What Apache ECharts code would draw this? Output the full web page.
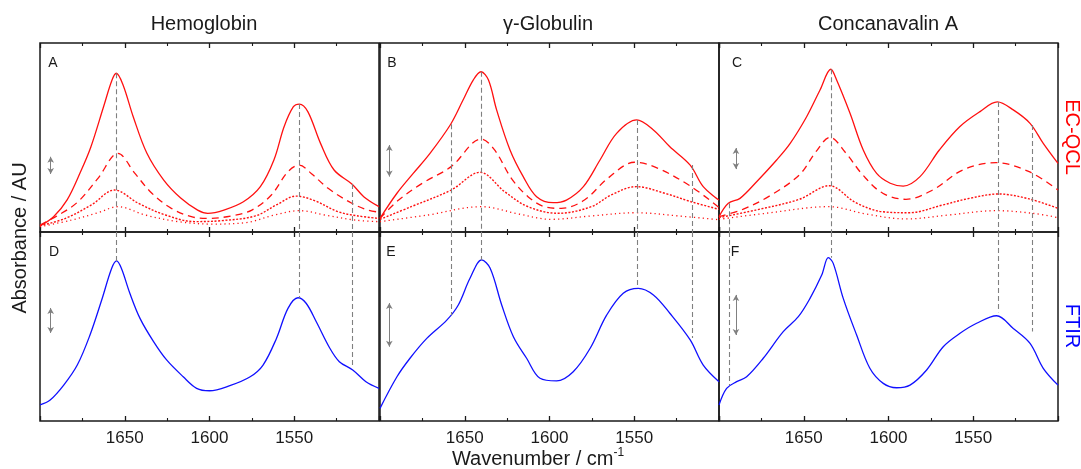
<!DOCTYPE html>
<html>
<head>
<meta charset="utf-8">
<script src="https://cdn.jsdelivr.net/npm/echarts@6/dist/echarts.min.js"></script>
<style>
html,body{margin:0;padding:0;background:#fff;}
#chart{width:1081px;height:469px;}
</style>
</head>
<body>
<div id="chart"></div>
<script>
// ---------- data (wavenumber cm^-1, absorbance in arbitrary units, 0..100 per panel) ----------
const columnTitles = ['Hemoglobin', 'γ-Globulin', 'Concanavalin A'];
const panelLetters = ['A', 'B', 'C', 'D', 'E', 'F'];
const tickLabels = [1650, 1600, 1550];

// Hemoglobin EC-QCL (four concentrations) and FTIR
const hbQcl1 = [[1700,3.2],[1692,8.1],[1684,17],[1676,32],[1670,45],[1662.5,66.3],[1657.5,80.4],[1655,84],[1651,77.8],[1645,61],[1637,41.8],[1627,27.5],[1617,18],[1607,11.6],[1601,9.9],[1591.5,11.6],[1580,16],[1570,24],[1562,38.1],[1556,55.7],[1550.5,66.3],[1547,67.7],[1542,63.7],[1534.5,46.9],[1526.5,32.8],[1516,25.4],[1509,18.7],[1500,13.4]];
const hbQcl2 = [[1700,3.7],[1689,9],[1677.6,16],[1665.8,28.4],[1654,41.6],[1644,31],[1634,20.5],[1622.5,12.5],[1610.7,8.1],[1601,7.2],[1587,8.5],[1575,11.6],[1563.5,19.6],[1553.7,31.9],[1547,35.4],[1540,31],[1530,23.1],[1516,15.2],[1506.5,11.6],[1500,10.5]];
const hbQcl3 = [[1700,3.3],[1685,7.2],[1669.7,14.3],[1656,22.2],[1642,15.2],[1626,9],[1608.7,5.5],[1593,6],[1573,8.5],[1559.6,14.8],[1549,19],[1538,16.6],[1524,10.7],[1512.4,8.5],[1500,7.2]];
const hbQcl4 = [[1700,2.8],[1681.5,6.3],[1665.8,10.2],[1654,13.4],[1638,9],[1618.6,5.5],[1599,4.2],[1579,4.9],[1561.5,9],[1547,11.3],[1532,9],[1514,6.3],[1500,5.5]];
const hbFtir = [[1700,8.5],[1694,11.1],[1686,19],[1678,29.6],[1670.5,45.5],[1663.6,64],[1657.7,80.8],[1654.8,84.7],[1652,80.8],[1647,67.6],[1641,54.3],[1633,42],[1625.3,32.3],[1615.5,23.4],[1607.6,17.3],[1600,16],[1588,18.7],[1576,23.4],[1568.4,29.6],[1560.5,43.7],[1553.7,59.6],[1547.8,65.2],[1543,62.3],[1537,52.5],[1529,38.5],[1523.4,31.4],[1515.5,27],[1507.7,20.8],[1500,17.3]];

// γ-Globulin
const glQcl1 = [[1700,7.2],[1690,20.5],[1680.4,31],[1670.5,41.6],[1658.3,57],[1651,69.8],[1645,80.4],[1640.4,84.8],[1636,80.4],[1631.2,64.6],[1623.3,43.4],[1615.5,29.3],[1607.6,18.7],[1597.8,15.5],[1590,16.9],[1580,24],[1570.2,38.1],[1560.4,52.2],[1548.6,59.3],[1538.7,54],[1529,45.1],[1517,35.4],[1509.3,24],[1500,16.9]];
const glQcl2 = [[1700,7.2],[1689,16.9],[1675,25.8],[1658,34.6],[1640.2,49.2],[1632.4,43.4],[1622.5,28.4],[1612.7,18.7],[1603,13.4],[1593,12.5],[1579.4,16.9],[1565.6,28.4],[1549.8,36.9],[1536,33.7],[1516.4,24],[1500,13]];
const glQcl3 = [[1700,6.7],[1681.6,13.4],[1658,22.2],[1641,31.6],[1626.4,21.3],[1612.7,13.4],[1595,9.9],[1575.3,13.4],[1563.6,19.6],[1548.8,24],[1532,20.5],[1516.4,16],[1500,12]];
const glQcl4 = [[1700,5.5],[1671.7,9],[1640.2,13.4],[1618,9.5],[1599.3,6.7],[1575.3,8.5],[1548.8,10.2],[1524,8.5],[1500,6.5]];
const glFtir = [[1700,6.7],[1690,23.4],[1682.3,33.2],[1672.4,43.7],[1660.6,53.4],[1653.8,61.4],[1646.9,75.5],[1640,85.2],[1635,80.8],[1628.2,61.4],[1621.3,44.6],[1613.5,33.2],[1605.6,22.6],[1595.8,21.2],[1586,26.1],[1576,38.5],[1566.3,56],[1556.5,67.6],[1547.6,70.2],[1538.7,66.7],[1529,57],[1517,42.9],[1509.3,29.6],[1500,20.8]];

// Concanavalin A
const caQcl1 = [[1700,8.1],[1694.5,15.2],[1687.6,17.8],[1677.8,26.6],[1666,38.1],[1658,46.9],[1648.3,61],[1640.4,75.1],[1634,86.1],[1630.6,80.4],[1622.7,62.8],[1614.9,43.4],[1607,31],[1599,25.8],[1591.3,24.3],[1581.4,29.3],[1570,43.4],[1558,55.7],[1546,63.7],[1535.8,68.8],[1526.4,64.6],[1516.5,57.5],[1508.7,46.9],[1500,36.3]];
const caQcl2 = [[1700,8.1],[1686,12],[1670.3,19],[1652.6,30.2],[1642.8,42.5],[1634.6,50.1],[1625,41.6],[1615.2,30.2],[1603.4,20.5],[1589.7,17.3],[1574,22.2],[1556.2,32.8],[1536.6,36.7],[1517,31.9],[1500,22.2]];
const caQcl3 = [[1700,7.6],[1678.3,11.6],[1652.6,17.3],[1635,24.5],[1619.3,15.5],[1603.4,10.7],[1587.7,10.2],[1568,14.3],[1552.3,17.8],[1535,20.1],[1517,17.5],[1500,12.5]];
const caQcl4 = [[1700,6.7],[1672.3,9.9],[1635,13.4],[1613.2,9.5],[1589.7,6.9],[1564.3,9],[1536.6,11.3],[1515,9.9],[1500,7.6]];
const caFtir = [[1700,8.5],[1695.5,17.3],[1689.6,20.8],[1683.7,23.4],[1673.9,33.2],[1662.1,47.3],[1653.2,55.2],[1646.3,64.9],[1639.4,77.2],[1635.5,86.4],[1632.6,83.4],[1626.7,64.9],[1618.8,45.5],[1611,27.9],[1603.1,19.9],[1595.2,17.6],[1587.3,19],[1577.5,27],[1567.7,39.3],[1557.8,46.4],[1548,51.7],[1536.2,55.7],[1526.4,49],[1516.5,41.1],[1508.7,27.9],[1500,19]];

// band positions (grey dashed guides): position, top-panel start value, bottom-panel end value
const hbBands = [1655, 1547, 1516];
const hbBandQcl = [84, 67.7, 25.4];
const hbBandFtir = [84.7, 65.2, 28.2];
const glBands = [1658, 1640, 1548.5, 1516];
const glBandQcl = [57, 84.8, 59.3, 35.4];
const glBandFtir = [56, 85.2, 70.5, 43.9];
const caBands = [1694, 1634, 1535.5, 1515];
const caBandQcl = [15.2, 86.1, 68.8, 56.6];
const caBandFtir = [19, 86.4, 57.5, 47.3];

// scale bars: [wavenumber, low, high] for top (QCL) and bottom (FTIR) panels
const scaleQcl = [[1693.7, 30.7, 39.8], [1694.5, 29.3, 46], [1690, 33.3, 44.4]];
const scaleFtir = [[1693.7, 46.6, 59.8], [1694.5, 39.3, 62.4], [1690, 45.5, 66.7]];

// ---------- build ----------
const FONT = '"Liberation Sans", Arial, Helvetica, sans-serif';
const RED = '#ff1010', BLUE = '#1010ff', GREY = '#808080', INK = '#1a1a1a';
const lefts = [40, 380, 719], W = 339;
const tops = [43, 232], H = 189;

const qclSets = [[hbQcl1, hbQcl2, hbQcl3, hbQcl4], [glQcl1, glQcl2, glQcl3, glQcl4], [caQcl1, caQcl2, caQcl3, caQcl4]];
const ftirSets = [hbFtir, glFtir, caFtir];
const bandSets = [[hbBands, hbBandQcl, hbBandFtir], [glBands, glBandQcl, glBandFtir], [caBands, caBandQcl, caBandFtir]];

const grids = [], xAxes = [], yAxes = [], series = [];
const qclStyles = [
  { type: 'solid', width: 1.3 },
  { type: [7, 5], width: 1.3 },
  { type: [2, 1.6], width: 1.4 },
  { type: [1.2, 3.2], width: 1.3 }
];

function xAx(g, pos, labels) {
  return {
    gridIndex: g, type: 'value', min: 1500, max: 1700, interval: 50, inverse: true, position: pos,
    axisLine: { show: false },
    axisTick: { show: true, inside: true, length: 5, lineStyle: { color: INK, width: 1.3 } },
    minorTick: { show: true, splitNumber: 2, length: 3, lineStyle: { color: INK, width: 1.1 } },
    splitLine: { show: false }, minorSplitLine: { show: false },
    axisLabel: labels ? {
      show: true, margin: 9, fontSize: 17, color: INK, fontFamily: FONT,
      formatter: v => (tickLabels.indexOf(v) >= 0 ? String(v) : '')
    } : { show: false }
  };
}

for (let row = 0; row < 2; row++) {
  for (let col = 0; col < 3; col++) {
    const g = row * 3 + col;
    grids.push({ left: lefts[col], top: tops[row], width: W, height: H, show: true, borderColor: INK, borderWidth: 1.5, backgroundColor: 'transparent' });
    xAxes.push(xAx(g, 'bottom', row === 1));
    xAxes.push(xAx(g, 'top', false));
    yAxes.push({ gridIndex: g, type: 'value', min: 0, max: 100, show: false });
    const xi = g * 2;
    const [bands, bq, bf] = bandSets[col];
    if (row === 0) {
      const guides = bands.map((b, i) => [{ coord: [b, bq[i]], symbol: 'none' }, { coord: [b, 0], symbol: 'none' }]);
      const s = scaleQcl[col];
      const bar = [{ coord: [s[0], s[1]], symbol: 'arrow', lineStyle: { type: 'solid', color: GREY, width: 1 } }, { coord: [s[0], s[2]], symbol: 'arrow' }];
      qclSets[col].forEach((d, k) => {
        series.push({
          type: 'line', xAxisIndex: xi, yAxisIndex: g, data: d, smooth: 0.35, showSymbol: false, symbol: 'none',
          lineStyle: Object.assign({ color: RED }, qclStyles[k]), silent: true, animation: false, z: 3,
          markLine: k === 0 ? {
            silent: true, animation: false, symbolSize: [5, 6], label: { show: false },
            lineStyle: { type: [5, 3], color: GREY, width: 1.1 },
            data: guides.concat([bar])
          } : undefined
        });
      });
    } else {
      const guides = bands.map((b, i) => [{ coord: [b, 100], symbol: 'none' }, { coord: [b, bf[i]], symbol: 'none' }]);
      const s = scaleFtir[col];
      const bar = [{ coord: [s[0], s[1]], symbol: 'arrow', lineStyle: { type: 'solid', color: GREY, width: 1 } }, { coord: [s[0], s[2]], symbol: 'arrow' }];
      series.push({
        type: 'line', xAxisIndex: xi, yAxisIndex: g, data: ftirSets[col], smooth: 0.35, showSymbol: false, symbol: 'none',
        lineStyle: { color: BLUE, width: 1.3 }, silent: true, animation: false, z: 3,
        markLine: {
          silent: true, animation: false, symbolSize: [5, 6], label: { show: false },
          lineStyle: { type: [5, 3], color: GREY, width: 1.1 },
          data: guides.concat([bar])
        }
      });
    }
  }
}

function txt(text, x, y, size, color, rot, extra) {
  return Object.assign({
    type: 'text', x: x, y: y, rotation: rot || 0, silent: true, z: 10,
    style: Object.assign({ text: text, fontSize: size, fontFamily: FONT, fill: color || INK, align: 'center', verticalAlign: 'middle', textAlign: 'center', textVerticalAlign: 'middle' }, extra || {})
  });
}

const titleX = [204, 548, 888];
const letterPos = [[53, 63], [392, 63], [737, 63], [54, 252], [391, 252], [735, 252]];
const graphics = [];
columnTitles.forEach((t, i) => graphics.push(txt(t, titleX[i], 24, 20, INK)));
panelLetters.forEach((t, i) => graphics.push(txt(t, letterPos[i][0], letterPos[i][1], 14, INK)));
graphics.push(txt('Absorbance / AU', 20, 238, 20, INK, Math.PI / 2));
graphics.push(txt('EC-QCL', 1072, 137, 20, '#ff0000', -Math.PI / 2));
graphics.push(txt('FTIR', 1072, 326, 20, '#0000ff', -Math.PI / 2));
graphics.push(txt('Wavenumber / cm{s|-1}', 538, 459, 20, INK, 0, {
  rich: { s: { fontSize: 12, fontFamily: FONT, fill: INK, verticalAlign: 'top', padding: [0, 0, 12, 0] } }
}));

const chart = echarts.init(document.getElementById('chart'), null, { renderer: 'canvas' });
chart.setOption({
  backgroundColor: '#fff',
  animation: false,
  grid: grids, xAxis: xAxes, yAxis: yAxes, series: series,
  graphic: graphics
});
</script>
</body>
</html>
